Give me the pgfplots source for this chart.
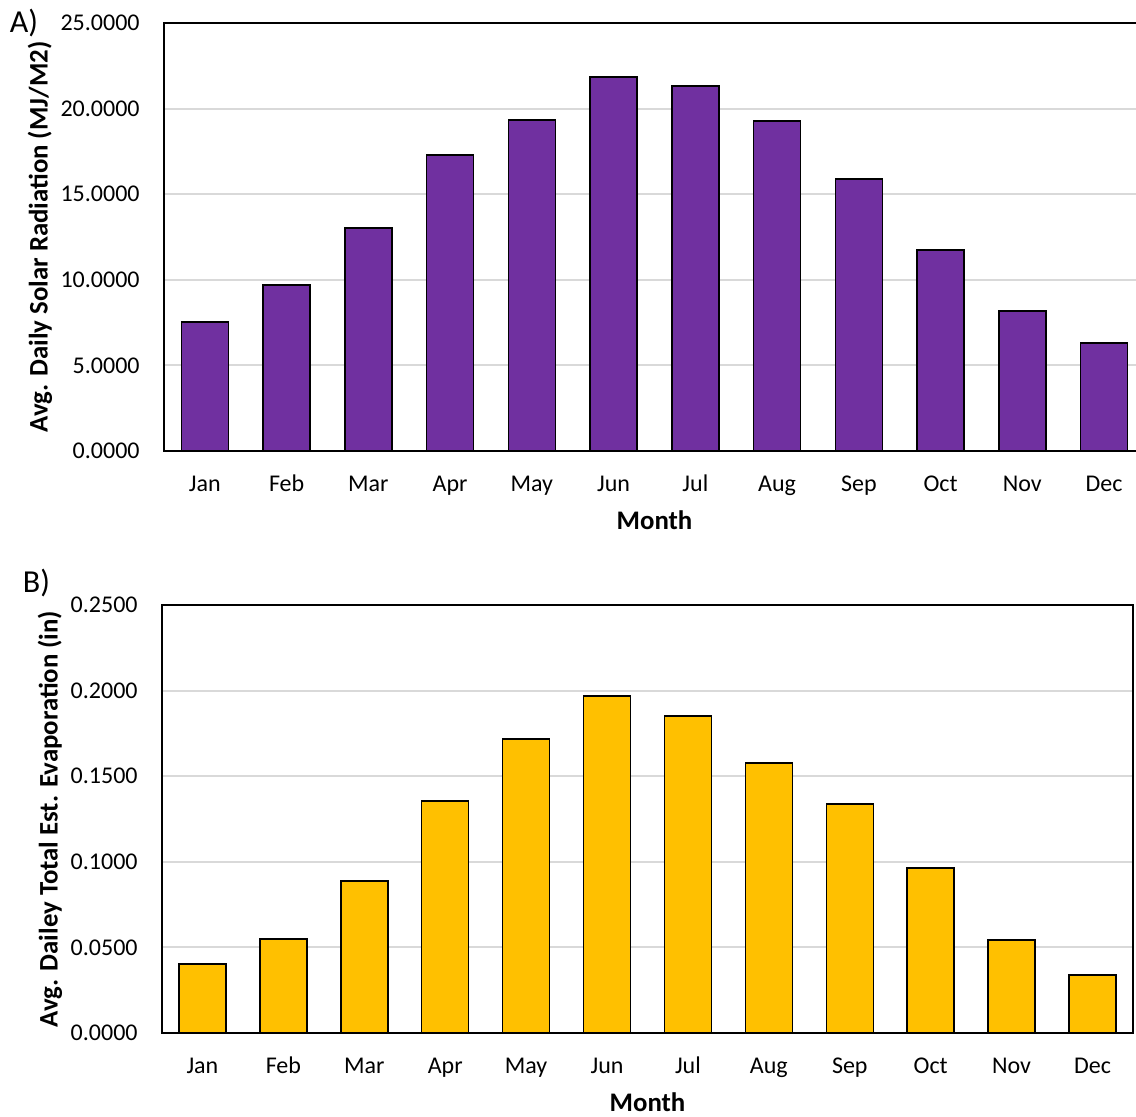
\documentclass[border=0pt]{standalone}
\usepackage{pgfplots}
\pgfplotsset{compat=1.18}
\usepackage{fontspec}
\setmainfont{Carlito}
\definecolor{barpurple}{HTML}{7030A0}
\definecolor{bargold}{HTML}{FFC000}
\definecolor{gridgray}{HTML}{D9D9D9}
\pgfplotsset{
  mybar/.style={
    scale only axis, ybar, bar width=23.5pt,
    xmin=-0.5, xmax=11.5, xtick={0,...,11},
    xticklabels={Jan,Feb,Mar,Apr,May,Jun,Jul,Aug,Sep,Oct,Nov,Dec},
    major tick length=0pt, ymin=0,
    ymajorgrids, grid style={gridgray, line width=1pt},
    axis line style={black, line width=1pt},
    /pgf/number format/assume math mode=true,
    tick label style={font=\fontsize{12}{14}\selectfont},
    yticklabel style={/pgf/number format/fixed, /pgf/number format/fixed zerofill, /pgf/number format/precision=4, anchor=east, inner sep=0pt, xshift=-12pt},
    xticklabel style={anchor=base, yshift=-20pt},
    label style={font=\fontsize{13.4}{15}\selectfont\bfseries},
    xlabel style={at={(axis description cs:0.5,0)}, anchor=center, yshift=-34.5pt},
  }
}
\begin{document}
\begin{tikzpicture}
\begin{axis}[mybar, at={(82pt,332.5pt)}, anchor=south west,
  width=490.5pt, height=214pt, ymax=25, ytick={0,5,10,15,20,25},
  xlabel={Month}, ylabel={Avg. Daily Solar Radiation (MJ/M2)},
  ylabel style={at={(axis description cs:-0.1264,0.5)}, anchor=center}]
\addplot[fill=barpurple, draw=black, line width=0.75pt] coordinates {
(0,7.53) (1,9.70) (2,13.03) (3,17.29) (4,19.33) (5,21.85)
(6,21.32) (7,19.28) (8,15.89) (9,11.74) (10,8.18) (11,6.31)};
\end{axis}
\begin{axis}[mybar, at={(81pt,41.5pt)}, anchor=south west,
  width=485.5pt, height=214pt, ymax=0.25, ytick={0,0.05,0.1,0.15,0.2,0.25},
  xlabel={Month}, ylabel={Avg. Dailey Total Est. Evaporation (in)},
  ylabel style={at={(axis description cs:-0.1153,0.5)}, anchor=center}]
\addplot[fill=bargold, draw=black, line width=0.75pt] coordinates {
(0,0.0403) (1,0.0549) (2,0.0888) (3,0.1355) (4,0.1717) (5,0.1968)
(6,0.1852) (7,0.1577) (8,0.1338) (9,0.0964) (10,0.0543) (11,0.0339)};
\end{axis}
\node[font=\fontsize{16}{18}\selectfont] at (12pt,546.5pt) {A)};
\node[font=\fontsize{16}{18}\selectfont] at (18.25pt,266.5pt) {B)};
\pgfresetboundingbox
\path[use as bounding box] (0,0) rectangle (568pt,558pt);
\end{tikzpicture}
\end{document}
